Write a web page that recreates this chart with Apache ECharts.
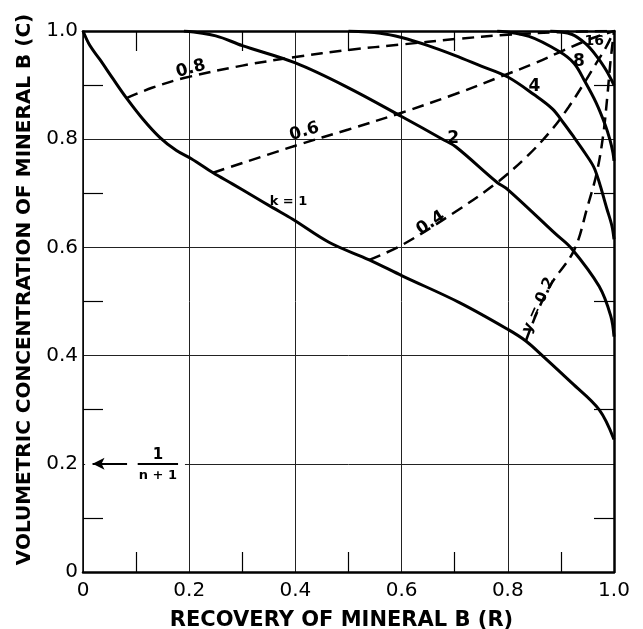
<!DOCTYPE html>
<html><head><meta charset="utf-8">
<script src="https://cdn.jsdelivr.net/npm/echarts@6/dist/echarts.min.js"></script>
<style>html,body{margin:0;padding:0;background:#fff}#c{width:643px;height:629px}</style>
</head><body><div id="c"></div>
<script>
// ---- data (R = recovery, C = volumetric concentration) ----
const tickValues = [0, 0.2, 0.4, 0.6, 0.8, 1.0];
const kNames = ['k = 1', '2', '4', '8', '16'];
const yNames = ['0.8', '0.6', '0.4', 'y = 0.2'];

const curveK1 = [[0,1],[0.013,0.973],[0.032,0.947],[0.057,0.911],[0.082,0.876],[0.113,0.837],[0.145,0.803],[0.176,0.779],[0.204,0.764],[0.245,0.738],[0.282,0.717],[0.32,0.695],[0.358,0.673],[0.395,0.652],[0.464,0.609],[0.539,0.577],[0.602,0.547],[0.709,0.498],[0.801,0.448],[0.834,0.427],[0.865,0.4],[0.921,0.349],[0.972,0.3],[1.0,0.245]];
const curveK2 = [[0.19,1.0],[0.25,0.991],[0.3,0.973],[0.4,0.941],[0.5,0.895],[0.6,0.842],[0.677,0.8],[0.702,0.786],[0.78,0.72],[0.8,0.707],[0.89,0.625],[0.92,0.598],[0.972,0.528],[0.994,0.473],[1.0,0.435]];
const curveK4 = [[0.5,1.0],[0.56,0.996],[0.6,0.988],[0.65,0.973],[0.7,0.955],[0.75,0.935],[0.8,0.915],[0.85,0.882],[0.884,0.856],[0.905,0.83],[0.925,0.803],[0.945,0.775],[0.964,0.744],[0.987,0.67],[0.996,0.64],[1.0,0.615]];
const curveK8 = [[0.78,1.0],[0.84,0.99],[0.897,0.962],[0.925,0.94],[0.945,0.907],[0.966,0.868],[0.984,0.825],[0.992,0.8],[0.998,0.775],[1.0,0.76]];
const curveK16 = [[0.88,1.0],[0.92,0.994],[0.947,0.976],[0.97,0.95],[0.985,0.928],[0.995,0.91],[1.0,0.9]];

const yieldY08 = [[0.082,0.876],[0.13,0.895],[0.19,0.913],[0.3,0.936],[0.4,0.952],[0.5,0.965],[0.6,0.975],[0.7,0.985],[0.8,0.993],[0.9,0.998],[1.0,1.0]];
const yieldY06 = [[0.245,0.738],[0.4,0.788],[0.5,0.818],[0.6,0.849],[0.7,0.883],[0.79,0.917],[0.85,0.94],[0.9,0.962],[0.96,0.987],[1.0,1.0]];
const yieldY04 = [[0.539,0.577],[0.6,0.604],[0.7,0.665],[0.78,0.72],[0.84,0.772],[0.884,0.819],[0.915,0.86],[0.944,0.904],[0.965,0.938],[0.985,0.97],[1.0,1.0]];
const yieldY02 = [[0.834,0.427],[0.853,0.475],[0.88,0.53],[0.925,0.595],[0.95,0.675],[0.968,0.74],[0.98,0.81],[0.988,0.885],[0.993,0.94],[1.0,1.0]];

const feedGrade = 0.2; // 1/(n+1)

// ---- chart ----
const FONT = 'DejaVu Sans';
const chart = echarts.init(document.getElementById('c'), null, {renderer: 'canvas'});

function fmt(v) { return v === 0 ? '0' : v.toFixed(1); }

function solid(name, data) {
  return { name, type: 'line', data, symbol: 'none', smooth: 0.35, z: 3,
    lineStyle: { color: '#000', width: 3 }, silent: true, animation: false };
}
function dashed(name, data) {
  return { name, type: 'line', data, symbol: 'none', smooth: 0.35, z: 3,
    lineStyle: { color: '#000', width: 2.5, type: [12, 7] }, silent: true, animation: false };
}

const curveLabelStyle = { fontFamily: FONT, fontWeight: 'bold', color: '#000', textBorderWidth: 0, opacity: 1 };
const labelPoints = [
  { value: [0.387, 0.684], label: { formatter: kNames[0], fontSize: 13 } },
  { value: [0.697, 0.802], label: { formatter: kNames[1], fontSize: 17 } },
  { value: [0.85, 0.898], label: { formatter: kNames[2], fontSize: 17 } },
  { value: [0.934, 0.944], label: { formatter: kNames[3], fontSize: 17 } },
  { value: [0.963, 0.98], label: { formatter: kNames[4], fontSize: 14 } },
  { value: [0.203, 0.93], label: { formatter: yNames[0], fontSize: 17, rotate: 15 } },
  { value: [0.417, 0.814], label: { formatter: yNames[1], fontSize: 17, rotate: 17 } },
  { value: [0.655, 0.645], label: { formatter: yNames[2], fontSize: 17, rotate: 33 } },
  { value: [0.858, 0.493], label: { formatter: yNames[3], fontSize: 15, rotate: 66 } },
  { value: [0.141, 0.216], label: { formatter: '1', fontSize: 15 } },
  { value: [0.141, 0.178], label: { formatter: 'n + 1', fontSize: 13 } }
];

const axisCommon = {
  type: 'value', min: 0, max: 1, interval: 0.2,
  axisTick: { show: false, inside: true },
  minorTick: { show: true, splitNumber: 2, length: 20, lineStyle: { color: '#000', width: 1.2 } },
  splitLine: { show: false }
};

const option = {
  backgroundColor: '#fff',
  animation: false,
  grid: { left: 83, right: 29, top: 31, bottom: 57, containLabel: false, outerBoundsMode: 'none' },
  xAxis: [
    Object.assign({}, axisCommon, {
      position: 'bottom',
      axisLine: { show: true, onZero: false, lineStyle: { color: '#000', width: 2.5 } },
      splitLine: { show: true, lineStyle: { color: '#222', width: 1 } },
      axisLabel: { formatter: fmt, fontFamily: FONT, fontSize: 20, color: '#000', margin: 9 },
      name: 'RECOVERY OF MINERAL B (R)', nameLocation: 'middle', nameGap: 38,
      nameTextStyle: { fontFamily: FONT, fontWeight: 'bold', fontSize: 21, color: '#000', padding: [0, 14, 0, 0] }
    }),
    Object.assign({}, axisCommon, {
      position: 'top',
      axisLine: { show: true, onZero: false, lineStyle: { color: '#000', width: 2.5 } },
      axisLabel: { show: false }
    })
  ],
  yAxis: [
    Object.assign({}, axisCommon, {
      position: 'left',
      axisLine: { show: true, onZero: false, lineStyle: { color: '#000', width: 1.5 } },
      splitLine: { show: true, lineStyle: { color: '#222', width: 1 } },
      axisLabel: { formatter: fmt, fontFamily: FONT, fontSize: 20, color: '#000', margin: 5 },
      name: 'VOLUMETRIC CONCENTRATION OF MINERAL B (C)', nameLocation: 'middle', nameGap: 48,
      nameTextStyle: { fontFamily: FONT, fontWeight: 'bold', fontSize: 20, color: '#000', padding: [0, 0, 0, 24] }
    }),
    Object.assign({}, axisCommon, {
      position: 'right',
      axisLine: { show: true, onZero: false, lineStyle: { color: '#000', width: 2.5 } },
      axisLabel: { show: false }
    })
  ],
  series: [
    // white-out of the gridline behind the 1/(n+1) annotation
    { type: 'line', data: [], z: 2, silent: true,
      markLine: { silent: true, symbol: ['none', 'none'], animation: false,
        lineStyle: { color: '#fff', width: 4, type: 'solid' }, label: { show: false },
        data: [[{ coord: [0.004, feedGrade] }, { coord: [0.192, feedGrade] }]] } },
    // arrow and fraction bar
    { type: 'line', data: [], z: 4, silent: true,
      markLine: { silent: true, animation: false, label: { show: false },
        lineStyle: { color: '#000', width: 2, type: 'solid' },
        data: [
          [{ coord: [0.083, feedGrade], symbol: 'none' }, { coord: [0.018, feedGrade], symbol: 'arrow', symbolSize: [9, 12] }],
          [{ coord: [0.103, feedGrade], symbol: 'none' }, { coord: [0.179, feedGrade], symbol: 'none' }]
        ] } },
    solid('k=1', curveK1),
    solid('k=2', curveK2),
    solid('k=4', curveK4),
    solid('k=8', curveK8),
    solid('k=16', curveK16),
    dashed('y=0.8', yieldY08),
    dashed('y=0.6', yieldY06),
    dashed('y=0.4', yieldY04),
    dashed('y=0.2', yieldY02),
    { type: 'scatter', data: labelPoints, symbolSize: 0, z: 5, silent: true,
      itemStyle: { opacity: 1 },
      label: Object.assign({ show: true, position: 'inside' }, curveLabelStyle) }
  ]
};
chart.setOption(option);
</script>
</body></html>
